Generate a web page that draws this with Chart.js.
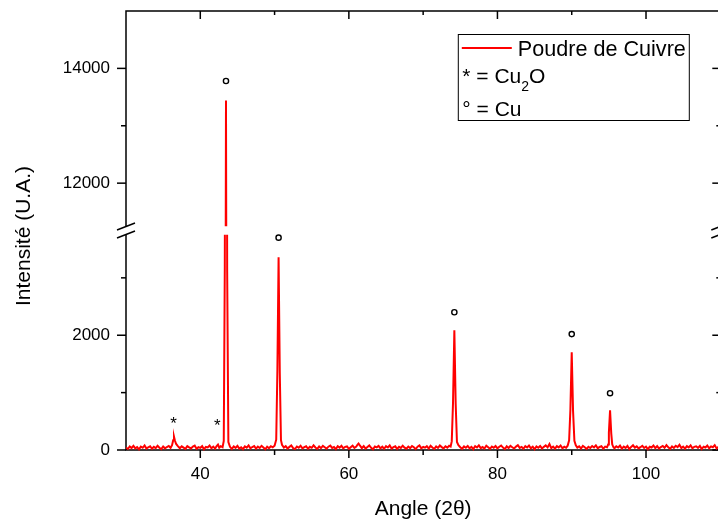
<!DOCTYPE html>
<html>
<head>
<meta charset="utf-8">
<script src="https://cdn.jsdelivr.net/npm/chart.js@4.4.0/dist/chart.umd.min.js"></script>
<style>
  html, body { margin: 0; padding: 0; background: #fff; overflow: hidden; }
  canvas { display: block; }
</style>
</head>
<body>
<canvas id="xrdChart" width="740" height="520"></canvas>
<script>
// diffractogram, [2theta, counts]
const scan = [
  [30.0, 42], [30.25, 18], [30.5, 63], [30.75, 35], [31.0, 71], [31.25, 28], [31.5, 50], [31.75, 12],
  [32.0, 58], [32.25, 39], [32.5, 80], [32.75, 24], [33.0, 47], [33.25, 66], [33.5, 21], [33.75, 55],
  [34.0, 33], [34.25, 74], [34.5, 40], [34.75, 15], [35.0, 61], [35.25, 29], [35.5, 52], [35.75, 70],
  [36.0, 38], [36.2, 85], [36.35, 170], [36.46, 232], [36.58, 165], [36.75, 105], [36.95, 72],
  [37.25, 30], [37.5, 64], [37.75, 41], [38.0, 19], [38.25, 68], [38.5, 45], [38.75, 27],
  [39.0, 59], [39.25, 76], [39.5, 22], [39.75, 50], [40.0, 36], [40.25, 67], [40.5, 14], [40.75, 53],
  [41.0, 44], [41.25, 78], [41.5, 31], [41.75, 60], [42.0, 25], [42.2, 70], [42.38, 95], [42.55, 40],
  [42.75, 66], [43.0, 48],
  [43.16, 160], [43.3, 3200], [43.46, 13440], [43.62, 3100], [43.78, 140],
  [44.0, 55], [44.25, 20], [44.5, 62], [44.75, 37], [45.0, 73], [45.25, 26], [45.5, 49], [45.75, 16],
  [46.0, 64], [46.25, 42], [46.5, 81], [46.75, 30], [47.0, 52], [47.25, 69], [47.5, 23], [47.75, 58],
  [48.0, 35], [48.25, 72], [48.5, 44], [48.75, 13], [49.0, 57], [49.25, 31], [49.5, 66], [49.75, 46],
  [50.0, 75],
  [50.22, 180], [50.38, 1400], [50.54, 3357], [50.7, 1350], [50.86, 170],
  [51.0, 90], [51.25, 43], [51.5, 68], [51.75, 27], [52.0, 54], [52.25, 79], [52.5, 33], [52.75, 17],
  [53.0, 61], [53.25, 40], [53.5, 74], [53.75, 28], [54.0, 50], [54.25, 65], [54.5, 21], [54.75, 56],
  [55.0, 38], [55.25, 82], [55.5, 45], [55.75, 19], [56.0, 63], [56.25, 34], [56.5, 71], [56.75, 47],
  [57.0, 24], [57.25, 58], [57.5, 77], [57.75, 36], [58.0, 52], [58.25, 15], [58.5, 67], [58.75, 41],
  [59.0, 73], [59.25, 29], [59.5, 55], [59.75, 62], [60.0, 20], [60.25, 48], [60.5, 76], [60.75, 35],
  [61.0, 58], [61.15, 90], [61.3, 112], [61.45, 85], [61.6, 60], [61.75, 32],
  [62.0, 69], [62.25, 25], [62.5, 53], [62.75, 80], [63.0, 39], [63.25, 14], [63.5, 61], [63.75, 46],
  [64.0, 72], [64.25, 30], [64.5, 57], [64.75, 22], [65.0, 66], [65.25, 43], [65.5, 79], [65.75, 27],
  [66.0, 51], [66.25, 64], [66.5, 18], [66.75, 55], [67.0, 37], [67.25, 75], [67.5, 42], [67.75, 23],
  [68.0, 60], [68.25, 34], [68.5, 70], [68.75, 49], [69.0, 16], [69.25, 58], [69.5, 81], [69.75, 31],
  [70.0, 54], [70.25, 40], [70.5, 67], [70.75, 26], [71.0, 73], [71.25, 45], [71.5, 19], [71.75, 62],
  [72.0, 36], [72.25, 78], [72.5, 50], [72.75, 28], [73.0, 65], [73.25, 41], [73.5, 74], [73.7, 60],
  [73.85, 150], [74.02, 820], [74.2, 2087], [74.38, 800], [74.55, 140],
  [74.75, 85], [75.0, 48], [75.25, 22], [75.5, 63], [75.75, 39], [76.0, 71], [76.25, 30], [76.5, 56],
  [76.75, 15], [77.0, 68], [77.25, 44], [77.5, 80], [77.75, 33], [78.0, 52], [78.25, 25], [78.5, 74],
  [78.75, 47], [79.0, 20], [79.25, 61], [79.5, 38], [79.75, 69], [80.0, 29], [80.25, 57], [80.5, 76],
  [80.75, 42], [81.0, 17], [81.25, 64], [81.5, 35], [81.75, 72], [82.0, 48], [82.25, 26], [82.5, 59],
  [82.75, 83], [83.0, 37], [83.25, 54], [83.5, 21], [83.75, 66], [84.0, 43], [84.25, 77], [84.5, 31],
  [84.75, 58], [85.0, 14], [85.25, 62], [85.5, 40], [85.75, 71], [86.0, 27], [86.25, 55], [86.5, 80],
  [86.75, 46], [87.0, 105], [87.25, 34], [87.5, 60], [87.75, 23], [88.0, 67], [88.25, 45], [88.5, 78],
  [88.75, 30], [89.0, 56], [89.25, 39], [89.45, 75],
  [89.65, 170], [89.82, 700], [90.0, 1704], [90.18, 680], [90.36, 160],
  [90.55, 80], [90.75, 41], [91.0, 63], [91.25, 26], [91.5, 72], [91.75, 48], [92.0, 19], [92.25, 57],
  [92.5, 35], [92.75, 69], [93.0, 44], [93.25, 81], [93.5, 28], [93.75, 53], [94.0, 65], [94.25, 22],
  [94.5, 58], [94.75, 47], [94.9, 95],
  [95.0, 300], [95.16, 690], [95.32, 290], [95.45, 100],
  [95.6, 52], [95.75, 30], [96.0, 66], [96.25, 43], [96.5, 75], [96.75, 24], [97.0, 59], [97.25, 37],
  [97.5, 70], [97.75, 18], [98.0, 54], [98.25, 82], [98.5, 41], [98.75, 63], [99.0, 27], [99.25, 49],
  [99.5, 73], [99.75, 35], [100.0, 60], [100.25, 16], [100.5, 56], [100.75, 44], [101.0, 78], [101.25, 32],
  [101.5, 67], [101.75, 25], [102.0, 52], [102.25, 71], [102.5, 39], [102.75, 84], [103.0, 46], [103.25, 20],
  [103.5, 61], [103.75, 36], [104.0, 74], [104.25, 50], [104.5, 90], [104.75, 33], [105.0, 58], [105.25, 23],
  [105.5, 68], [105.75, 45], [106.0, 79], [106.25, 29], [106.5, 55], [106.75, 64], [107.0, 38], [107.25, 72],
  [107.5, 17], [107.75, 57], [108.0, 43], [108.25, 76], [108.5, 31], [108.75, 62], [109.0, 48], [109.25, 85],
  [109.5, 27], [109.75, 53], [110.0, 40]
];

const xMajor = [40, 60, 80, 100];
const xMinor = [50, 70, 90, 110];
const yLowMajor = [0, 2000];
const yLowMinor = [1000, 3000];
const yHighMajor = [12000, 14000];
const yHighMinor = [13000];
const lowRange = [0, 3750];
const highRange = [11100, 15000];
const breakHigh = 11250;

// peak labels
const cuPeaks = [[43.46, 13780], [50.54, 3700], [74.2, 2400], [90.0, 2020], [95.16, 990]];
const cu2oPeaks = [[36.4, 540], [42.3, 505]];

const FONT = 'Arial, "Liberation Sans", sans-serif';
Chart.defaults.font.family = FONT;
Chart.defaults.color = '#000';

const points = scan.map(([x, y]) => ({ x, y }));

const lineStyle = {
    borderColor: '#ff0000',
    borderWidth: 2,
    pointRadius: 0,
    tension: 0,
    clip: 4,
};

const clipToAxis = {
    id: 'clipToAxis',
    beforeDatasetDraw(chart, args) {
        const s = args.meta.yScale;
        const a = chart.chartArea;
        const bottom = s.id === 'yHigh' ? s.getPixelForValue(breakHigh) : s.bottom + 3;
        chart.ctx.save();
        chart.ctx.beginPath();
        chart.ctx.rect(a.left, s.top, a.right - a.left, bottom - s.top);
        chart.ctx.clip();
    },
    afterDatasetDraw(chart) {
        chart.ctx.restore();
    }
};

const frame = {
    id: 'frame',
    beforeDatasetsDraw(chart) {
        const { ctx, chartArea: a, scales } = chart;
        const line = (x1, y1, x2, y2) => {
            ctx.beginPath();
            ctx.moveTo(x1, y1);
            ctx.lineTo(x2, y2);
            ctx.stroke();
        };
        ctx.save();
        ctx.strokeStyle = '#000';
        ctx.lineWidth = 1.5;
        ctx.strokeRect(a.left, a.top, a.right - a.left, a.bottom - a.top);

        xMajor.forEach(v => {
            const x = scales.x.getPixelForValue(v);
            line(x, a.bottom, x, a.bottom + 8);
            line(x, a.top, x, a.top + 8);
        });
        xMinor.forEach(v => {
            const x = scales.x.getPixelForValue(v);
            line(x, a.bottom, x, a.bottom + 5);
            line(x, a.top, x, a.top + 4);
        });
        [[scales.yHigh, yHighMajor, yHighMinor], [scales.yLow, yLowMajor, yLowMinor]].forEach(([s, major, minor]) => {
            major.forEach(v => {
                const y = s.getPixelForValue(v);
                line(a.left - 9, y, a.left, y);
                line(a.right - 8, y, a.right, y);
            });
            minor.forEach(v => {
                const y = s.getPixelForValue(v);
                line(a.left - 5, y, a.left, y);
                line(a.right - 4, y, a.right, y);
            });
        });

        // axis break
        const yb = (scales.yHigh.getPixelForValue(breakHigh) + scales.yLow.top) / 2;
        [a.left, a.right].forEach(x0 => {
            ctx.fillStyle = '#fff';
            ctx.fillRect(x0 - 2, yb - 4, 4, 8);
            line(x0 - 9, yb - 0.5, x0 + 9, yb - 7.5);
            line(x0 - 9, yb + 7.5, x0 + 9, yb + 0.5);
        });
        ctx.restore();
    }
};

const annotations = {
    id: 'annotations',
    afterDraw(chart) {
        const { ctx, chartArea: a, scales } = chart;
        const yFor = v => (v > lowRange[1] ? scales.yHigh : scales.yLow).getPixelForValue(v);
        ctx.save();

        ctx.strokeStyle = '#000';
        ctx.lineWidth = 1.4;
        cuPeaks.forEach(([x, v]) => {
            ctx.beginPath();
            ctx.arc(scales.x.getPixelForValue(x), yFor(v), 2.6, 0, Math.PI * 2);
            ctx.stroke();
        });

        ctx.fillStyle = '#000';
        ctx.font = '17px ' + FONT;
        ctx.textAlign = 'center';
        ctx.textBaseline = 'alphabetic';
        cu2oPeaks.forEach(([x, v]) => {
            ctx.fillText('*', scales.x.getPixelForValue(x), yFor(v) + 9.5);
        });

        // y title
        ctx.font = '21px ' + FONT;
        ctx.textBaseline = 'middle';
        ctx.save();
        ctx.translate(24, 236);
        ctx.rotate(-Math.PI / 2);
        ctx.fillText('Intensité (U.A.)', 0, 0);
        ctx.restore();

        // legend box
        const lx = a.right - 262, ly = a.top + 23.5;
        ctx.lineWidth = 1;
        ctx.strokeRect(lx, ly, 231, 86);
        ctx.strokeStyle = '#ff0000';
        ctx.lineWidth = 2;
        ctx.beginPath();
        ctx.moveTo(lx + 3.5, ly + 13.5);
        ctx.lineTo(lx + 53.5, ly + 13.5);
        ctx.stroke();

        ctx.textAlign = 'left';
        ctx.textBaseline = 'alphabetic';
        ctx.font = '21.6px ' + FONT;
        ctx.fillText('Poudre de Cuivre', lx + 59.5, ly + 21);
        ctx.font = '21px ' + FONT;
        let tx = lx + 4;
        ctx.fillText('* = Cu', tx, ly + 48.5);
        tx += ctx.measureText('* = Cu').width;
        ctx.font = '14px ' + FONT;
        ctx.fillText('2', tx, ly + 56);
        tx += ctx.measureText('2').width;
        ctx.font = '21px ' + FONT;
        ctx.fillText('O', tx, ly + 48.5);
        ctx.fillText('° = Cu', lx + 4, ly + 81);
        ctx.restore();
    }
};

const tickFont = { size: 17 };
const intLabel = v => String(v);
const noEdgePadding = s => {
    s.paddingTop = 0;
    s.paddingBottom = 0;
    s.paddingLeft = 0;
    s.paddingRight = 0;
};

new Chart(document.getElementById('xrdChart'), {
    type: 'line',
    data: {
        datasets: [
            { label: 'Poudre de Cuivre', data: points, yAxisID: 'yHigh', ...lineStyle },
            { label: 'Poudre de Cuivre', data: points, yAxisID: 'yLow', ...lineStyle }
        ]
    },
    options: {
        responsive: false,
        animation: false,
        events: [],
        layout: { padding: { top: 11, right: 19.7, bottom: 0, left: 0 } },
        plugins: {
            legend: { display: false },
            tooltip: { enabled: false }
        },
        scales: {
            x: {
                type: 'linear',
                min: 30,
                max: 110,
                afterBuildTicks: s => { s.ticks = xMajor.map(v => ({ value: v })); },
                afterFit: s => { s.height = 70; noEdgePadding(s); },
                grid: { display: false, drawTicks: true, tickLength: 8 },
                border: { display: false },
                ticks: { padding: 6, font: tickFont, maxRotation: 0, callback: intLabel },
                title: {
                    display: true,
                    text: 'Angle (2θ)',
                    font: { size: 21, lineHeight: 1 },
                    padding: { top: 0, bottom: 0 }
                }
            },
            yLow: {
                type: 'linear',
                position: 'left',
                stack: 'intensity',
                stackWeight: lowRange[1] - lowRange[0],
                min: lowRange[0],
                max: lowRange[1],
                afterBuildTicks: s => { s.ticks = yLowMajor.map(v => ({ value: v })); },
                afterFit: s => { s.width = 126; noEdgePadding(s); },
                grid: { display: false, drawTicks: true, tickLength: 9 },
                border: { display: false },
                ticks: { padding: 7, font: tickFont, callback: intLabel }
            },
            yHigh: {
                type: 'linear',
                position: 'left',
                stack: 'intensity',
                stackWeight: highRange[1] - highRange[0],
                min: highRange[0],
                max: highRange[1],
                afterBuildTicks: s => { s.ticks = yHighMajor.map(v => ({ value: v })); },
                afterFit: s => { s.width = 126; noEdgePadding(s); },
                grid: { display: false, drawTicks: true, tickLength: 9 },
                border: { display: false },
                ticks: { padding: 7, font: tickFont, callback: intLabel }
            }
        }
    },
    plugins: [clipToAxis, frame, annotations]
});
</script>
</body>
</html>
